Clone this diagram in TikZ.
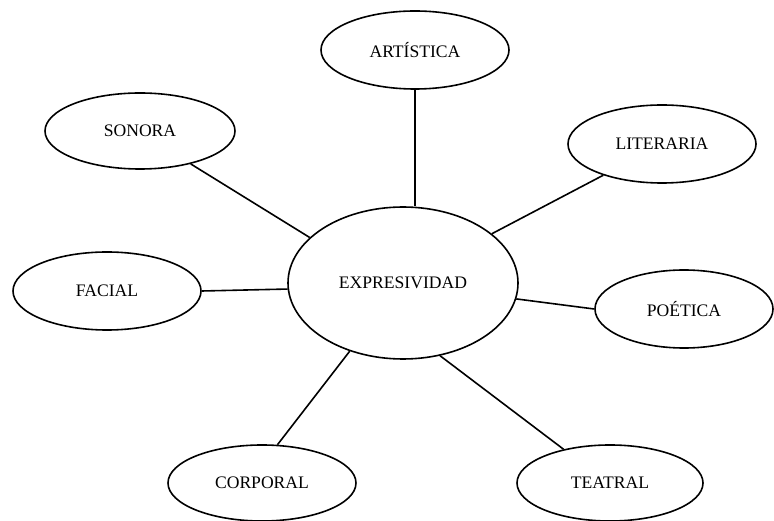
\documentclass[tikz,border=0pt]{standalone}
\usepackage{fontspec}
\setmainfont{Liberation Serif}
\usetikzlibrary{shapes.geometric}
\begin{document}
\begin{tikzpicture}[x=1pt,y=-1pt,
  bub/.style={draw=black, line width=1.6pt, ellipse, inner sep=0pt,
    minimum width=188pt, minimum height=78pt,
    font=\fontsize{17.6}{20}\selectfont},
  link/.style={draw=black, line width=1.6pt}]
\useasboundingbox[fill=white] (0,0) rectangle (774,521);
\node[bub, minimum width=230pt, minimum height=152pt] (E) at (403,283) {EXPRESIVIDAD};
\node[bub] (art) at (415,50) {ARTÍSTICA};
\node[bub, minimum width=190pt, minimum height=76pt] (son) at (140,131) {SONORA};
\node[bub] (lit) at (662,144) {LITERARIA};
\node[bub] (fac) at (107,291) {FACIAL};
\node[bub, minimum width=178pt] (poe) at (684,309) {POÉTICA};
\node[bub, minimum height=76pt] (cor) at (262,483) {CORPORAL};
\node[bub, minimum width=186pt, minimum height=76pt] (tea) at (610,483) {TEATRAL};
\draw[link] (art.south) -- (art.south |- E.north);
\draw[link] (son.327) -- (E.154.7);
\draw[link] (lit.208) -- (E.29.9);
\draw[link] (fac.east) -- (E.183.5);
\draw[link] (poe.west) -- (E.352);
\draw[link] (cor.68.5) -- (E.232.5);
\draw[link] (tea.144) -- (E.297);
\end{tikzpicture}
\end{document}
